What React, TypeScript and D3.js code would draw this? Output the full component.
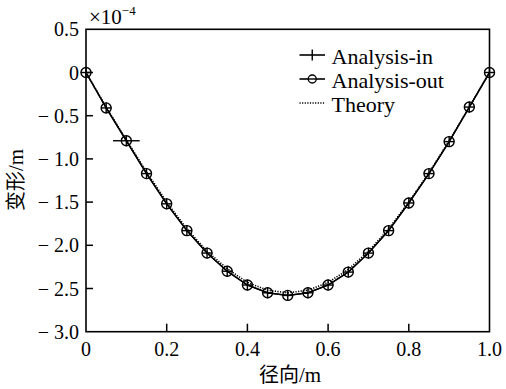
import React from "react";
import * as d3 from "d3";

const xValues = [0, 0.05, 0.1, 0.15, 0.2, 0.25, 0.3, 0.35, 0.4, 0.45, 0.5, 0.55, 0.6, 0.65, 0.7, 0.75, 0.8, 0.85, 0.9, 0.95, 1.0];
const analysisIn = [0, -0.41, -0.79, -1.17, -1.52, -1.83, -2.09, -2.3, -2.46, -2.55, -2.58, -2.55, -2.46, -2.31, -2.09, -1.83, -1.51, -1.17, -0.8, -0.4, 0];
const analysisOut = [0, -0.41, -0.79, -1.17, -1.52, -1.83, -2.09, -2.3, -2.46, -2.55, -2.58, -2.55, -2.46, -2.31, -2.09, -1.83, -1.51, -1.17, -0.8, -0.4, 0];
const theory = [0, -0.4, -0.78, -1.15, -1.5, -1.81, -2.07, -2.27, -2.43, -2.52, -2.55, -2.52, -2.43, -2.28, -2.07, -1.81, -1.5, -1.16, -0.79, -0.4, 0];
// horizontal half-extent (x units) of the "+" marker of Analysis-in
const inXErr = [0.013, 0.013, 0.033, 0.013, 0.013, 0.013, 0.013, 0.013, 0.013, 0.013, 0.013, 0.013, 0.013, 0.013, 0.013, 0.013, 0.013, 0.013, 0.013, 0.013, 0.013];

const xTicks = [0, 0.2, 0.4, 0.6, 0.8, 1.0];
const xTickLabels = ["0", "0.2", "0.4", "0.6", "0.8", "1.0"];
const yTicks = [0.5, 0, -0.5, -1.0, -1.5, -2.0, -2.5, -3.0];
const yTickLabels = ["0.5", "0", "0.5", "1.0", "1.5", "2.0", "2.5", "3.0"];
const yTickNegative = [false, false, true, true, true, true, true, true];
const legendLabels = ["Analysis-in", "Analysis-out", "Theory"];

const W = 506;
const H = 389;
const L = 86, R = 489.5, T = 29.3, B = 331.7;
const serifStyle = { fontFamily: "'Liberation Serif', 'Times New Roman', Times, 'DejaVu Serif', 'Noto Serif', serif" };
const cjkStyle = { fontFamily: "'Noto Sans CJK SC', sans-serif" };

export default function App() {
  const x = d3.scaleLinear().domain([0, 1]).range([L, R]);
  const y = d3.scaleLinear().domain([0.5, -3.0]).range([T, B]);
  const line = d3.line<number>().x((_, i) => x(xValues[i])).y((d) => y(d));
  const fs = 20;

  return (
    <svg width={W} height={H} style={{ position: "absolute", left: 0, top: 0, background: "#fff" }}>
      <rect x={0} y={0} width={W} height={H} fill="#fff" />
      {/* theory dotted */}
      <path d={line(theory) || ""} fill="none" stroke="#000" strokeWidth={1.6} strokeDasharray="1.2,1.4" />
      {/* analysis lines */}
      <path d={line(analysisIn) || ""} fill="none" stroke="#000" strokeWidth={1.5} />
      <path d={line(analysisOut) || ""} fill="none" stroke="#000" strokeWidth={1.2} />
      {analysisOut.map((v, i) => (
        <circle key={"o" + i} cx={x(xValues[i])} cy={y(v)} r={5} fill="none" stroke="#000" strokeWidth={1.4} />
      ))}
      {analysisIn.map((v, i) => (
        <g key={"p" + i} stroke="#000" strokeWidth={1.4}>
          <line x1={x(xValues[i] - inXErr[i])} x2={x(xValues[i] + inXErr[i])} y1={y(v)} y2={y(v)} />
          <line x1={x(xValues[i])} x2={x(xValues[i])} y1={y(v) - 5.5} y2={y(v) + 5.5} />
        </g>
      ))}
      {/* axes box */}
      <rect x={L} y={T} width={R - L} height={B - T} fill="none" stroke="#000" strokeWidth={1.6} />
      {xTicks.map((t, i) => (
        <g key={"xt" + i}>
          {i > 0 && i < xTicks.length - 1 && (
            <line x1={x(t)} x2={x(t)} y1={B} y2={B - 8} stroke="#000" strokeWidth={1.5} />
          )}
          <text x={x(t)} y={356} textAnchor="middle" style={serifStyle} fontSize={fs}>{xTickLabels[i]}</text>
        </g>
      ))}
      {yTicks.map((t, i) => (
        <g key={"yt" + i}>
          {i > 0 && i < yTicks.length - 1 && (
            <line x1={L} x2={L + 7} y1={y(t)} y2={y(t)} stroke="#000" strokeWidth={1.5} />
          )}
          <text x={79} y={y(t) + 7} textAnchor="end" style={serifStyle} fontSize={fs}>{yTickLabels[i]}</text>
          {yTickNegative[i] && (
            <text x={49} y={y(t) + 7} textAnchor="end" style={serifStyle} fontSize={fs}>{"\u2212"}</text>
          )}
        </g>
      ))}
      {/* exponent */}
      <text x={89} y={24} style={serifStyle} fontSize={21}>
        ×10<tspan dy={-9} fontSize={13}>{"\u2212"}4</tspan>
      </text>
      {/* axis titles */}
      <text x={290} y={382} textAnchor="middle" style={cjkStyle} fontSize={20}>
        径向<tspan style={serifStyle} fontSize={21}>/m</tspan>
      </text>
      <text transform={`translate(23,180) rotate(-90)`} textAnchor="middle" style={cjkStyle} fontSize={20}>
        变形<tspan style={serifStyle} fontSize={21}>/m</tspan>
      </text>
      {/* legend */}
      {legendLabels.map((lab, i) => {
        const ly = 55 + i * 24;
        const x1 = 299.5, x2 = 325, cx = (x1 + x2) / 2;
        return (
          <g key={"lg" + i}>
            <line x1={x1} x2={x2} y1={ly} y2={ly} stroke="#000" strokeWidth={1.6} strokeDasharray={i === 2 ? "1.2,1.4" : undefined} />
            {i === 0 && <line x1={cx} x2={cx} y1={ly - 5.5} y2={ly + 5.5} stroke="#000" strokeWidth={1.4} />}
            {i === 1 && <circle cx={cx} cy={ly} r={4} fill="#fff" stroke="#000" strokeWidth={1.4} />}
            {i === 1 && <line x1={cx - 4} x2={cx + 4} y1={ly} y2={ly} stroke="#000" strokeWidth={1.4} />}
            <text x={331.5} y={ly + 8.5} style={serifStyle} fontSize={22}>{lab}</text>
          </g>
        );
      })}
    </svg>
  );
}
